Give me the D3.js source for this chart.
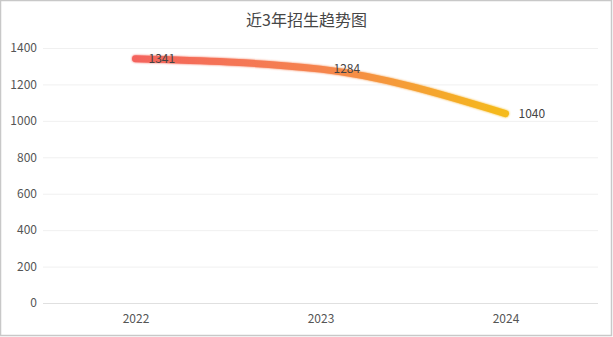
<!DOCTYPE html>
<html>
<head>
<meta charset="utf-8">
<script src="https://cdn.jsdelivr.net/npm/d3@7/dist/d3.min.js"></script>
<style>
  html, body { margin: 0; padding: 0; background: #fff; }
  svg { display: block; }
</style>
</head>
<body>
<div id="chart"></div>
<script>
// Enrolment figures for the last three years
const years = ["2022", "2023", "2024"];
const enrolment = [1341, 1284, 1040];
const yTicks = [0, 200, 400, 600, 800, 1000, 1200, 1400];
const titleText = "近3年招生趋势图";

const W = 613, H = 337;
const margin = { top: 48, right: 15, bottom: 34, left: 43 };
const font = "'Noto Sans CJK SC', 'Microsoft YaHei', sans-serif";

const svg = d3.select("#chart").append("svg")
  .attr("width", W).attr("height", H);

// outer frame
svg.append("rect")
  .attr("x", 0.5).attr("y", 0.5)
  .attr("width", W - 2).attr("height", H - 2)
  .attr("fill", "#fff").attr("stroke", "#c8c8c8").attr("stroke-width", 1.5);

const x = d3.scalePoint()
  .domain(years)
  .range([margin.left, W - margin.right])
  .padding(0.5);

const y = d3.scaleLinear()
  .domain([0, 1400])
  .range([303, 48]);

// title
svg.append("text")
  .attr("x", W / 2).attr("y", 26)
  .attr("text-anchor", "middle")
  .attr("font-family", font)
  .attr("font-size", 16)
  .attr("fill", "#464646")
  .text(titleText);

// horizontal grid and y labels
const yAxis = d3.axisLeft(y)
  .tickValues(yTicks)
  .tickFormat(d3.format("d"))
  .tickSize(-(W - margin.right - margin.left))
  .tickPadding(8);

const gy = svg.append("g")
  .attr("transform", `translate(${margin.left},0)`)
  .call(yAxis);
gy.select(".domain").remove();
gy.selectAll(".tick line")
  .attr("stroke", d => d === 0 ? "#e0e0e0" : "#f0f0f0");
gy.selectAll(".tick text")
  .attr("font-family", font)
  .attr("font-size", 12)
  .attr("fill", "#555")
  .attr("x", -6);

// x labels
const xAxis = d3.axisBottom(x).tickSize(0).tickPadding(11);
const gx = svg.append("g")
  .attr("transform", `translate(0,${y(0)})`)
  .call(xAxis);
gx.select(".domain").remove();
gx.selectAll(".tick text")
  .attr("font-family", font)
  .attr("font-size", 12)
  .attr("fill", "#555");

// gradient stroke along the line
const defs = svg.append("defs");
const grad = defs.append("linearGradient")
  .attr("id", "lineGrad")
  .attr("gradientUnits", "userSpaceOnUse")
  .attr("x1", x(years[0])).attr("y1", 0)
  .attr("x2", x(years[years.length - 1])).attr("y2", 0);
grad.append("stop").attr("offset", "0%").attr("stop-color", "#f4645d");
grad.append("stop").attr("offset", "50%").attr("stop-color", "#f5844e");
grad.append("stop").attr("offset", "100%").attr("stop-color", "#f5bb1a");

const glow = defs.append("filter").attr("id", "glow")
  .attr("x", "-10%").attr("y", "-50%").attr("width", "120%").attr("height", "200%");
glow.append("feGaussianBlur").attr("in", "SourceGraphic").attr("stdDeviation", 1.2).attr("result", "b");
const fm = glow.append("feMerge");
fm.append("feMergeNode").attr("in", "b");
fm.append("feMergeNode").attr("in", "SourceGraphic");

const points = years.map((yr, i) => [x(yr), y(enrolment[i])]);

const line = d3.line().curve(d3.curveMonotoneX);

svg.append("path")
  .attr("d", line(points))
  .attr("fill", "none")
  .attr("stroke", "url(#lineGrad)")
  .attr("stroke-width", 7)
  .attr("stroke-linecap", "round")
  .attr("filter", "url(#glow)");

// value labels
svg.selectAll(".val")
  .data(years)
  .enter().append("text")
  .attr("class", "val")
  .attr("x", d => x(d) + 13)
  .attr("y", (d, i) => y(enrolment[i]))
  .attr("dy", "0.35em")
  .attr("font-family", font)
  .attr("font-size", 12)
  .attr("fill", "#444")
  .text((d, i) => enrolment[i]);
</script>
</body>
</html>
